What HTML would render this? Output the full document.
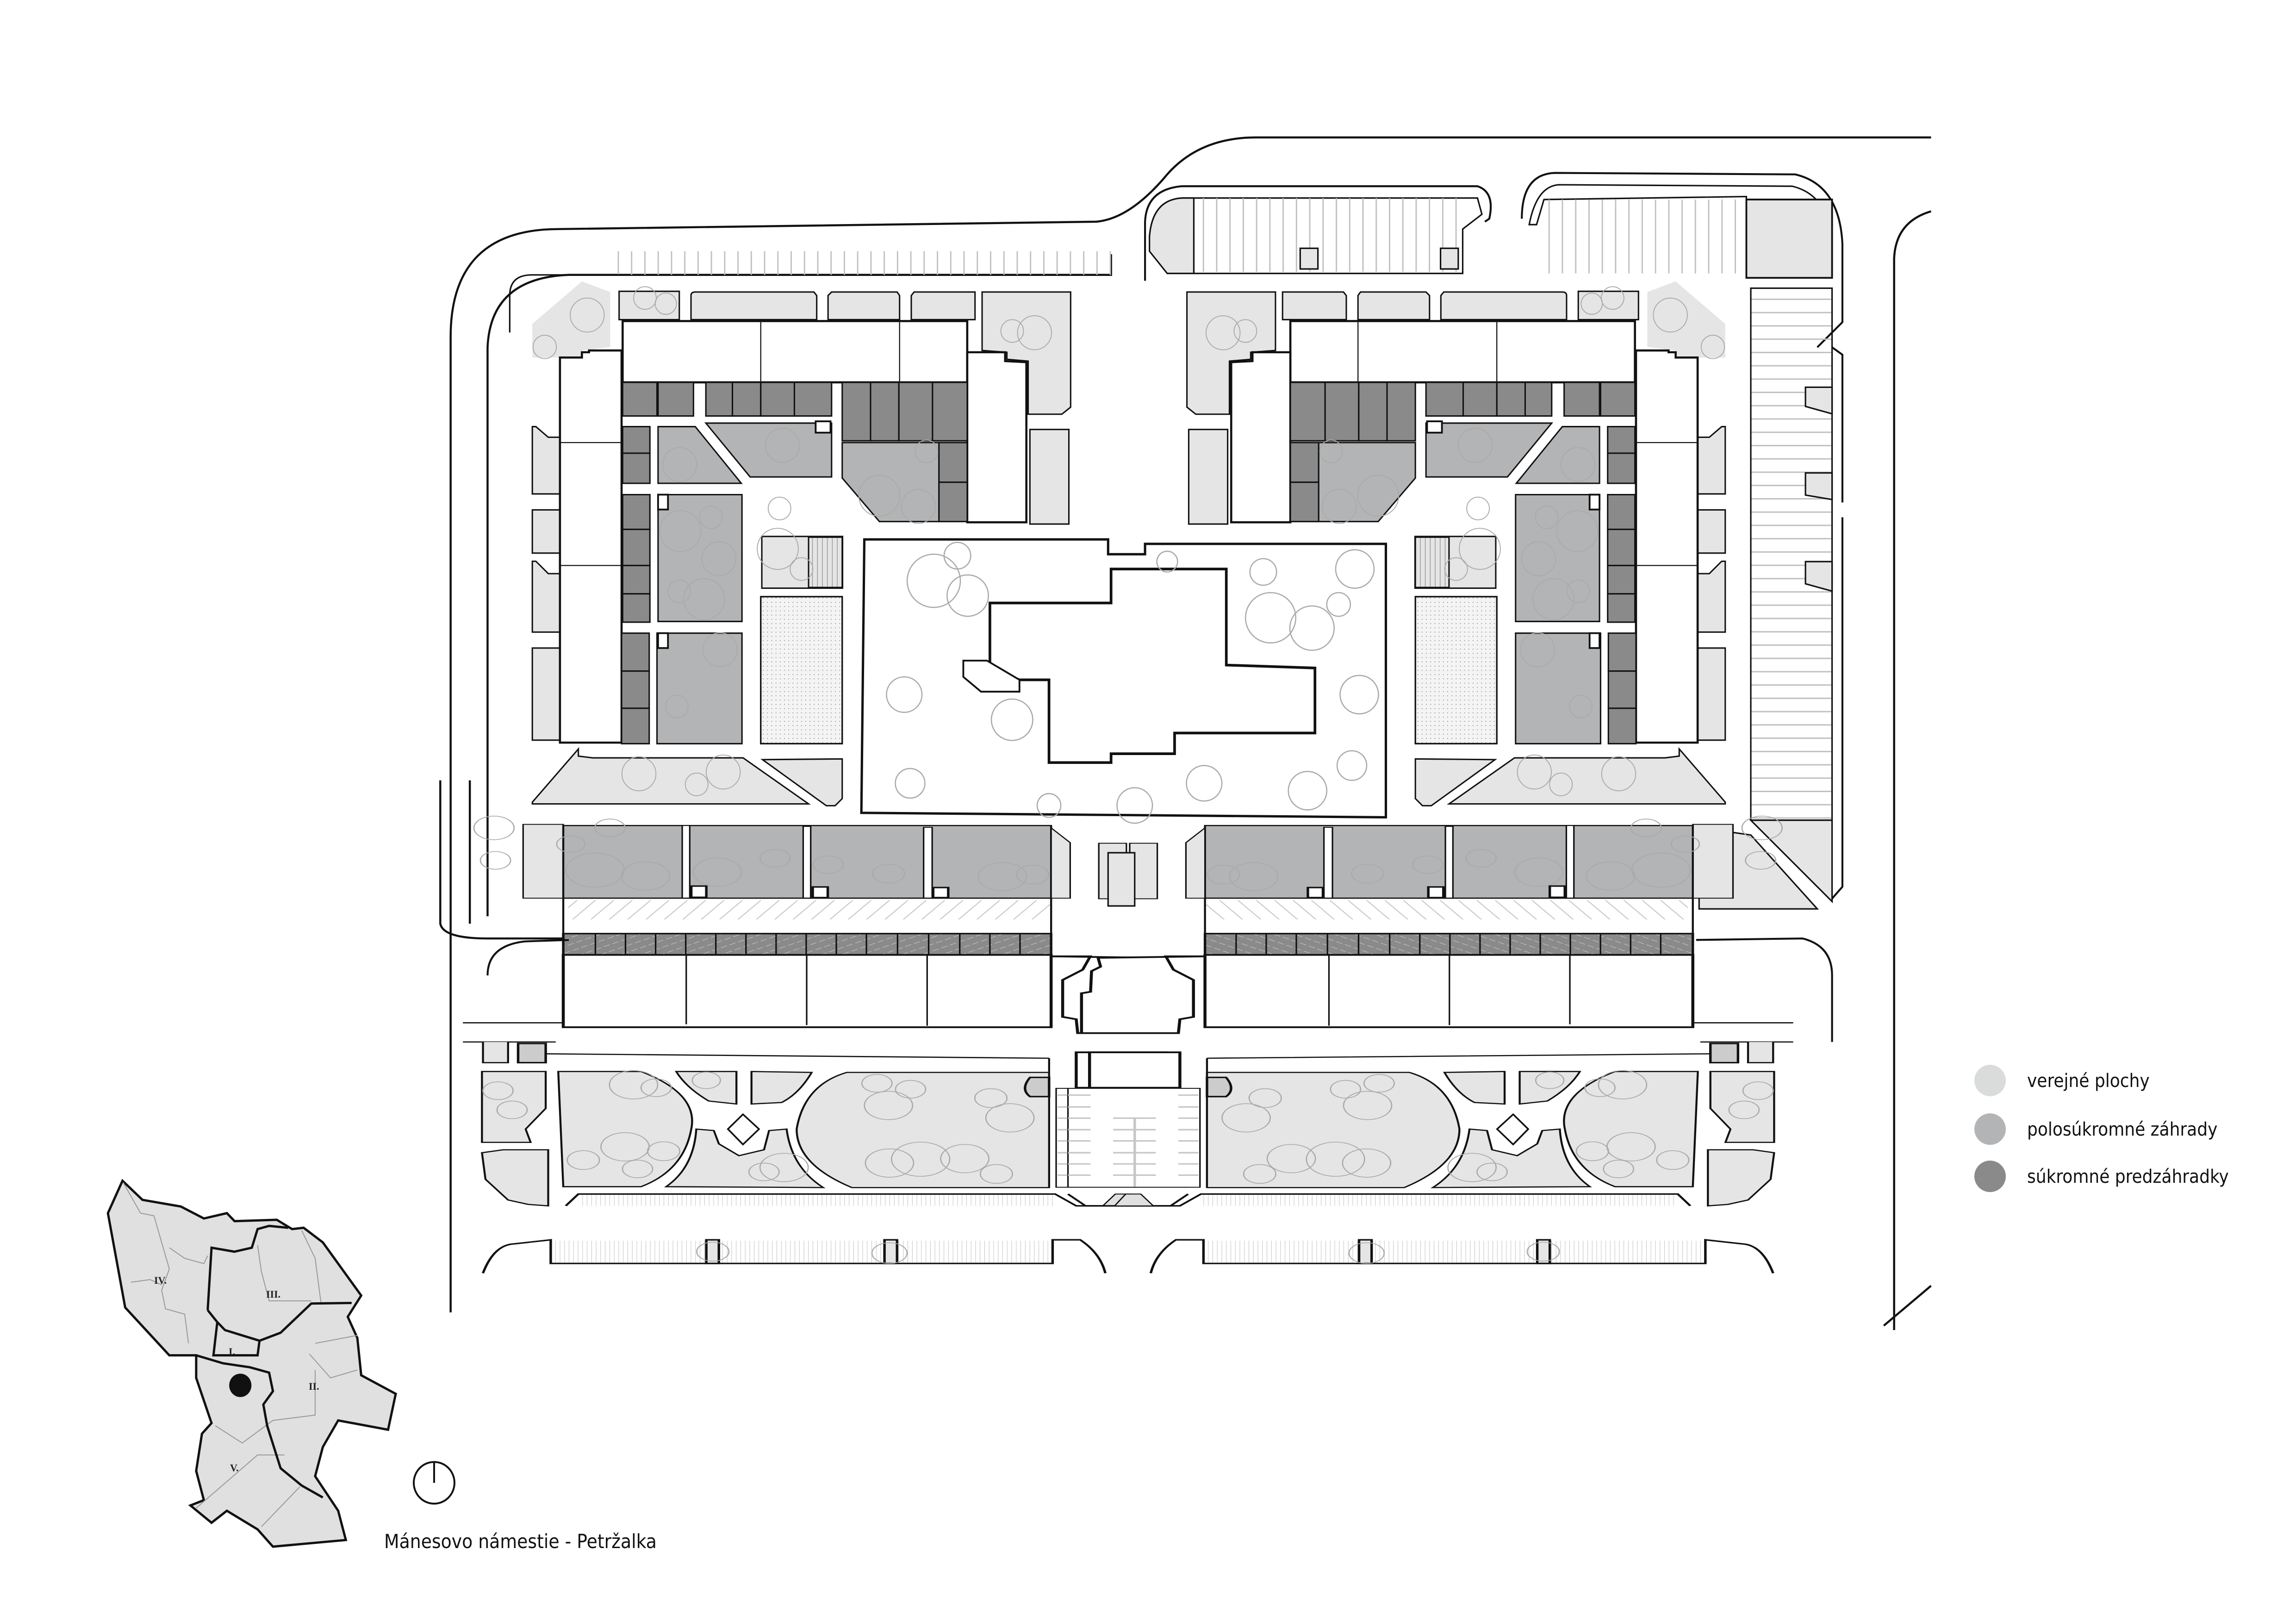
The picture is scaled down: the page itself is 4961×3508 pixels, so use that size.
<!DOCTYPE html>
<html><head><meta charset="utf-8"><style>
html,body{margin:0;padding:0;background:#fff;overflow:hidden}
svg{display:block}
.t{font-family:"DejaVu Sans Condensed","DejaVu Sans","Liberation Sans",sans-serif}
</style></head><body>
<svg width="4961" height="3508" viewBox="0 0 4961 3508" xmlns="http://www.w3.org/2000/svg">
<defs>
<pattern id="hat" width="30" height="30" patternUnits="userSpaceOnUse" patternTransform="rotate(35)">
<line x1="0" y1="0" x2="0" y2="30" stroke="#c8c8c8" stroke-width="5"/></pattern>
<pattern id="dot" width="12" height="12" patternUnits="userSpaceOnUse"><circle cx="4" cy="4" r="1.3" fill="#888"/></pattern>
<pattern id="str" width="14" height="10" patternUnits="userSpaceOnUse"><line x1="7" y1="0" x2="7" y2="10" stroke="#999" stroke-width="2"/></pattern>
<pattern id="dh" width="20" height="20" patternUnits="userSpaceOnUse" patternTransform="rotate(60)"><rect width="20" height="20" fill="#8a8a8a"/><line x1="0" y1="0" x2="0" y2="20" stroke="#c8c8c8" stroke-width="3" stroke-dasharray="8 6"/></pattern>
<pattern id="pk" width="9" height="10" patternUnits="userSpaceOnUse"><line x1="4.5" y1="0" x2="4.5" y2="10" stroke="#c0c0c0" stroke-width="0.9"/></pattern>
<pattern id="pkh" width="10" height="9" patternUnits="userSpaceOnUse"><line x1="0" y1="4.5" x2="10" y2="4.5" stroke="#c0c0c0" stroke-width="0.9"/></pattern>

<g id="blk" stroke="#111" stroke-width="5" stroke-linejoin="miter">
 <g fill="#e5e5e5" stroke-width="4">
  <path d="M0,130 L140,10 L220,40 L220,195 L140,205 L140,225 L80,225 L0,225Z" stroke="none"/>
  <rect x="245" y="38" width="170" height="80"/>
  <path d="M448,50 Q448,40 460,40 L795,40 L803,50 L803,118 L448,118Z"/>
  <path d="M835,50 L845,40 L1030,40 L1037,50 L1037,118 L835,118Z"/>
  <path d="M1070,50 L1078,40 L1250,40 L1250,118 L1070,118Z"/>
  <path d="M1270,40 L1520,40 L1520,365 L1495,385 L1400,385 L1400,235 L1340,230 L1340,210 L1270,205Z"/>
  <rect x="1405" y="428" width="110" height="267"/>
  <path d="M0,420 L10,420 L45,450 L78,450 L78,610 L0,610Z"/>
  <rect x="0" y="655" width="78" height="122"/>
  <path d="M0,800 L10,800 L45,835 L78,835 L78,1000 L0,1000Z"/>
  <rect x="0" y="1045" width="78" height="260"/>
  <path d="M0,1480 L130,1330 L130,1350 L170,1355 L595,1355 L780,1485 L0,1485Z" />
  <path d="M650,1360 L875,1358 L875,1470 L855,1490 L830,1490Z"/>
  <rect x="648" y="730" width="228" height="146"/>
  <rect x="780" y="732" width="95" height="142" fill="url(#str)" stroke="#111"/>
  <rect x="645" y="900" width="230" height="415" fill="#f4f4f4"/>
  <rect x="645" y="900" width="230" height="415" fill="url(#dot)"/>
 </g>
 <g fill="#fff" stroke-width="6">
  <rect x="255" y="122" width="973" height="173"/>
  <path d="M78,225 L140,225 L140,210 L160,210 L160,205 L252,205 L252,1312 L78,1312Z"/>
  <path d="M1228,210 L1335,210 L1335,235 L1395,238 L1395,690 L1228,690Z"/>
 </g>
 <g stroke-width="3"><line x1="645" y1="125" x2="645" y2="292"/><line x1="1037" y1="125" x2="1037" y2="292"/><line x1="80" y1="465" x2="250" y2="465"/><line x1="80" y1="812" x2="250" y2="812"/></g>
 <g fill="#8a8a8a" stroke-width="4">
  <rect x="255" y="295" width="97" height="95"/><rect x="355" y="295" width="100" height="95"/>
  <rect x="490" y="295" width="75" height="95"/><rect x="565" y="295" width="80" height="95"/><rect x="645" y="295" width="95" height="95"/><rect x="740" y="295" width="105" height="95"/>
  <rect x="875" y="295" width="80" height="165"/><rect x="955" y="295" width="80" height="165"/><rect x="1035" y="295" width="95" height="165"/><rect x="1130" y="295" width="98" height="165"/>
  <rect x="255" y="420" width="77" height="75"/><rect x="255" y="495" width="77" height="85"/>
  <rect x="255" y="612" width="77" height="98"/><rect x="255" y="710" width="77" height="102"/><rect x="255" y="812" width="77" height="80"/><rect x="255" y="892" width="77" height="80"/>
  <rect x="252" y="1003" width="78" height="107"/><rect x="252" y="1110" width="78" height="105"/><rect x="252" y="1215" width="78" height="100"/>
  <rect x="1148" y="465" width="80" height="112"/><rect x="1148" y="577" width="80" height="111"/>
 </g>
 <g fill="#b3b4b5" stroke-width="4">
  <path d="M355,420 L460,420 L590,580 L355,580Z"/>
  <path d="M490,410 L845,410 L845,562 L615,562Z"/>
  <path d="M355,612 L592,612 L592,970 L355,970Z"/>
  <path d="M352,1003 L592,1003 L592,1315 L352,1315Z"/>
  <path d="M875,465 L1148,465 L1148,688 L980,688 L875,565Z"/>
 </g>
 <g fill="#fff" stroke-width="5"><rect x="800" y="405" width="42" height="32"/><rect x="355" y="612" width="28" height="42"/><rect x="355" y="1003" width="28" height="42"/></g>
 <g fill="none" stroke="#aaa" stroke-width="2.5">
  <circle cx="155" cy="105" r="48"/><circle cx="35" cy="195" r="33"/><circle cx="318" cy="57" r="32"/><circle cx="377" cy="73" r="30"/>
  <circle cx="416" cy="527" r="48"/><circle cx="706" cy="473" r="48"/><circle cx="418" cy="715" r="58"/><circle cx="527" cy="793" r="48"/><circle cx="504" cy="676" r="32"/><circle cx="485" cy="907" r="58"/><circle cx="415" cy="885" r="32"/><circle cx="530" cy="1050" r="48"/><circle cx="408" cy="1210" r="32"/>
  <circle cx="980" cy="615" r="58"/><circle cx="1090" cy="645" r="48"/><circle cx="1113" cy="490" r="32"/><circle cx="1355" cy="150" r="32"/><circle cx="1418" cy="155" r="48"/>
  <circle cx="693" cy="765" r="58"/><circle cx="760" cy="822" r="32"/><circle cx="698" cy="651" r="32"/>
  <circle cx="301" cy="1400" r="48"/><circle cx="539" cy="1395" r="48"/><circle cx="464" cy="1430" r="32"/>
 </g>
</g>

<g id="row" stroke="#111" stroke-width="4" vector-effect="non-scaling-stroke">
 <rect x="120" y="48" width="80" height="250" fill="#e5e5e5" stroke-width="3"/>
 <rect x="200" y="52" width="972" height="246" fill="#b3b4b5"/>
 <g fill="#fff" stroke-width="3"><rect x="437" y="52" width="15" height="246"/><rect x="678" y="55" width="15" height="243"/><rect x="918" y="58" width="17" height="240"/></g>
 <g fill="#fff" stroke-width="5"><rect x="455" y="257" width="30" height="38"/><rect x="697" y="260" width="30" height="36"/><rect x="937" y="262" width="30" height="34"/></g>
 <path d="M1172,60 L1210,110 L1210,298 L1172,298Z" fill="#e5e5e5" stroke-width="3"/>
 <rect x="1267" y="112" width="55" height="188" fill="#e5e5e5" stroke-width="3"/>
 <rect x="200" y="298" width="972" height="120" fill="#fff"/>
 <rect x="210" y="305" width="960" height="65" fill="url(#hat)" stroke="none"/>
 <rect x="200" y="418" width="972" height="72" fill="url(#dh)" stroke-width="5"/>
 <g stroke-width="3"><path d="M264,418V490M324,418V490M384,418V490M444,418V490M504,418V490M564,418V490M624,418V490M684,418V490M744,418V490M804,418V490M866,418V490M928,418V490M990,418V490M1050,418V490M1110,418V490"/></g>
 <rect x="200" y="490" width="972" height="245" fill="#fff" stroke-width="6"/>
 <path d="M445,490V725M685,490V728M925,490V730" stroke-width="3"/>
 <path d="M1172,495 L1250,495 L1235,540 L1195,575 L1195,700 L1222,708 L1225,755 L1418,755 L1418,620 L1400,615 L1398,545 L1380,530 L1385,500 Z" fill="#fff" stroke-width="6"/>
 <rect x="1222" y="820" width="180" height="120" fill="#fff" stroke-width="6"/>
 <path d="M0,720 L200,720M0,785 L185,785M165,825 L1168,840M1168,840 L1168,1278" fill="none"/>
 <path d="M40,785 L40,855 L90,855 L90,785" fill="#e5e5e5" stroke-width="4"/>
 <path d="M38,885 L165,885 L165,1010 L125,1080 L135,1125 L38,1125Z" fill="#e5e5e5" stroke-width="4"/>
 <path d="M38,1160 L80,1150 L170,1150 L170,1340 L130,1335 L90,1320 L45,1250Z" fill="#e5e5e5" stroke-width="4"/>
 <path d="M190,885 L355,885 Q470,960 455,1080 Q440,1220 355,1275 L200,1275 Z" fill="#e5e5e5"/>
 <path d="M405,1275 Q460,1210 465,1080 L500,1085 L510,1130 L550,1170 L600,1150 L610,1085 L645,1080 Q655,1210 718,1278Z" fill="#e5e5e5"/>
 <path d="M425,885 L545,885 L545,995 L490,985 Q445,940 425,885Z" fill="#e5e5e5"/>
 <path d="M575,885 L695,888 Q670,960 635,990 L575,995Z" fill="#e5e5e5"/>
 <path d="M558,1030 L590,1080 L558,1132 L528,1080Z" fill="#fff"/>
 <path d="M765,888 L1168,888 L1168,1278 L775,1278 Q665,1200 665,1080 Q680,930 765,888 Z" fill="#e5e5e5"/>
 <rect x="1182" y="942" width="263" height="335" fill="#fff" stroke-width="3"/>
 <g stroke="#c6c6c6" stroke-width="5"><path d="M1185,965H1225M1185,1005H1225M1185,1043H1225M1185,1082H1225M1185,1120H1225M1185,1160H1225M1185,1198H1225M1185,1236H1225M1400,965H1445M1400,1005H1445M1400,1043H1445M1400,1082H1445M1400,1120H1445M1400,1160H1445M1400,1198H1445M1400,1236H1445M1270,1043H1355M1270,1082H1355M1270,1120H1355M1270,1160H1355M1270,1198H1355M1270,1236H1355M1312,1043V1275"/></g>
 <path d="M1130,905 L1168,905 L1168,970 L1130,970 Q1110,945 1130,905Z" fill="#ccc" stroke-width="5"/>
 <path d="M110,790 L165,790 L165,855 L110,855Z" fill="#ccc" stroke-width="5"/>
 <path d="M205,1340 L230,1300 L1180,1300 L1222,1340 L1410,1340 L1445,1300" fill="none" stroke-width="5"/>
 <rect x="232" y="1303" width="945" height="37" fill="url(#pk)" stroke="none"/>
 <path d="M1275,1340 L1300,1300 L1330,1300 L1352,1340Z" fill="#e0e0e0" stroke-width="3"/>
 <path d="M40,1568 Q60,1480 95,1470 L175,1455 L175,1535 L1175,1535 L1175,1455 L1230,1455 Q1270,1500 1280,1568" fill="none" stroke-width="5"/>
 <rect x="180" y="1458" width="990" height="74" fill="url(#pk)" stroke="none"/>
 <g fill="#e5e5e5" stroke-width="5"><rect x="485" y="1455" width="25" height="80"/><rect x="840" y="1455" width="25" height="80"/></g>
 <g fill="none" stroke="#aaa" stroke-width="2.5">
  <circle cx="340" cy="930" r="48"/><circle cx="385" cy="940" r="30"/><circle cx="485" cy="915" r="28"/><circle cx="323" cy="1140" r="48"/><circle cx="400" cy="1155" r="32"/><circle cx="240" cy="1185" r="32"/><circle cx="348" cy="1215" r="30"/>
  <circle cx="640" cy="1210" r="48"/><circle cx="600" cy="1225" r="30"/><circle cx="70" cy="950" r="30"/><circle cx="98" cy="1015" r="30"/>
  <circle cx="848" cy="1000" r="48"/><circle cx="825" cy="925" r="30"/><circle cx="892" cy="945" r="30"/><circle cx="1052" cy="975" r="32"/><circle cx="1090" cy="1042" r="48"/>
  <circle cx="850" cy="1195" r="48"/><circle cx="912" cy="1182" r="58"/><circle cx="1000" cy="1180" r="48"/><circle cx="1063" cy="1232" r="32"/>
  <circle cx="263" cy="203" r="58"/><circle cx="364" cy="223" r="48"/><circle cx="293" cy="60" r="30"/><circle cx="215" cy="115" r="28"/><circle cx="507" cy="210" r="48"/><circle cx="622" cy="163" r="30"/><circle cx="728" cy="185" r="30"/><circle cx="848" cy="215" r="32"/><circle cx="1075" cy="225" r="48"/><circle cx="1135" cy="218" r="32"/>
  <circle cx="62" cy="60" r="40"/><circle cx="65" cy="170" r="30"/><circle cx="498" cy="1495" r="32"/><circle cx="850" cy="1500" r="35"/>
 </g>
</g>
</defs>

<g transform="scale(3.1924)" fill="none" stroke="#111">
 <g stroke-width="1.4" fill="none">
  <path d="M305,888 L305,228 Q305,155 378,155 L742,150 Q765,148 790,118 Q812,93 850,93 L1307,93"/>
  <path d="M1282,900 L1282,175 Q1283,150 1307,143"/>
  <path d="M1275,897 L1307,870"/>
  <path d="M330,620 L330,235 Q332,188 385,186 L752,186 L752,172"/>
  <path d="M298,528 L298,625 Q300,635 330,635 L385,635"/>
  <path d="M318,528 L318,625"/>
 </g>
 <rect x="410" y="170" width="342" height="16" fill="url(#pk)" stroke="none"/>
 <path d="M345,225 L345,200 Q345,186 360,186 L420,186" stroke-width="1"/>
 <g stroke-width="1.3">
  <path d="M775,190 L775,150 Q776,128 800,126 L1000,126 Q1012,130 1008,148 L1005,150"/>
  <path d="M1030,148 Q1030,118 1052,117 L1215,118 Q1245,125 1247,165 L1247,218 L1230,235"/>
  <path d="M1240,235 L1247,240 L1247,340"/>
  <path d="M1247,350 L1247,600 L1240,608"/>
 </g>
 <path d="M778,160 Q780,135 800,134 L1000,134 L1003,145 L990,155 L990,185 L808,185 L808,160 Z" fill="#fff" stroke-width="1"/>
 <path d="M778,160 Q780,135 800,134 L808,134 L808,185 L790,185 L778,170Z" fill="#e5e5e5" stroke-width="1"/>
 <rect x="808" y="134" width="182" height="50" fill="url(#pk)" stroke="none"/>
 <path d="M1035,152 Q1040,126 1055,125 L1213,126 Q1238,132 1240,165 L1240,188 L1182,188 L1182,133 L1045,135 L1040,152Z" fill="#fff" stroke-width="1"/>
 <rect x="1045" y="135" width="135" height="50" fill="url(#pk)" stroke="none"/>
 <rect x="1182" y="135" width="58" height="53" fill="#e5e5e5" stroke-width="1.2"/>
 <g fill="#e5e5e5" stroke-width="1"><rect x="880" y="168" width="12" height="14"/><rect x="975" y="168" width="12" height="14"/></g>
 <rect x="1185" y="195" width="55" height="360" fill="url(#pkh)" stroke="#111" stroke-width="1"/>
 <path d="M1222,262 L1240,262 L1240,280 L1222,275Z M1222,320 L1240,320 L1240,338 L1222,335Z M1222,380 L1240,380 L1240,400 L1222,395Z" fill="#e5e5e5" stroke-width="1"/>
 <path d="M1185,555 L1240,555 L1240,610 Z" fill="#e5e5e5" stroke-width="1"/>
 <path d="M1150,560 L1185,565 L1230,615 L1150,615 Z" fill="#e5e5e5" stroke-width="1"/>
 <use href="#blk" transform="translate(360.3,188) scale(0.2397)"/>
 <use href="#blk" transform="translate(1528,0) scale(-1,1) translate(360.3,188) scale(0.2397)"/>
 <path d="M585,365 L750,365 L750,375 L775,375 L775,368 L938,368 L938,553 L583,550 Z" fill="#fff" stroke-width="1.6"/>
 <path d="M670,408 L752,408 L752,385 L830,385 L830,450 L890,452 L890,496 L795,496 L795,510 L752,510 L752,516 L710,516 L710,460 L690,460 L670,452 Z" fill="#fff" stroke-width="1.8"/>
 <path d="M652,447 L668,447 L690,460 L690,468 L664,468 L652,458 Z" fill="#fff" stroke-width="1.2"/>
 <g fill="none" stroke="#aaa" stroke-width="0.8">
  <circle cx="632" cy="393" r="18"/><circle cx="655" cy="403" r="14"/><circle cx="648" cy="376" r="9"/><circle cx="612" cy="470" r="12"/><circle cx="685" cy="487" r="14"/><circle cx="616" cy="530" r="10"/><circle cx="710" cy="545" r="8"/><circle cx="768" cy="545" r="12"/><circle cx="815" cy="530" r="12"/><circle cx="860" cy="418" r="17"/><circle cx="888" cy="425" r="15"/><circle cx="917" cy="385" r="13"/><circle cx="906" cy="409" r="8"/><circle cx="855" cy="387" r="9"/><circle cx="885" cy="535" r="13"/><circle cx="915" cy="518" r="10"/><circle cx="920" cy="470" r="13"/><circle cx="790" cy="380" r="7"/>
 </g>
 <g stroke-width="1.3">
 <use href="#row" transform="translate(313.3,548.2) scale(0.3397,0.1998)"/>
 <use href="#row" transform="translate(1527,0) scale(-1,1) translate(313.3,548.2) scale(0.3397,0.1998)"/>
 </g>
 <path d="M330,660 Q330,640 355,637 L385,636 M1148,636 L1220,635 Q1240,640 1240,660 L1240,705" stroke-width="1.3"/>
 <rect x="750" y="577" width="18" height="36" fill="#e5e5e5" stroke-width="1"/>
</g>

<g class="t" font-size="40" fill="#111">
 <circle cx="4300" cy="2334" r="34" fill="#dadcdc"/>
 <circle cx="4300" cy="2439" r="34" fill="#b3b4b5"/>
 <circle cx="4300" cy="2541" r="34" fill="#8a8a8a"/>
 <text x="4380" y="2348">verejné plochy</text>
 <text x="4380" y="2453">polosúkromné záhrady</text>
 <text x="4380" y="2555">súkromné predzáhradky</text>
</g>

<g transform="translate(200,2500) scale(0.8292,0.574)">
 <path d="M78,88 L130,160 L230,185 L290,230 L350,210 L370,240 L480,235 L520,270 L550,265 L600,320 L700,520 L665,600 L690,680 L700,820 L790,890 L770,1025 L640,990 L600,1090 L580,1200 L640,1330 L660,1440 L470,1465 L430,1400 L350,1330 L310,1375 L255,1310 L290,1290 L270,1180 L285,1040 L310,1000 L270,830 L270,745 L200,745 L85,565 L40,210 Z" fill="#e0e0e0" stroke="#111" stroke-width="5" vector-effect="non-scaling-stroke"/>
 <g fill="none" stroke="#999" stroke-width="2" vector-effect="non-scaling-stroke">
  <path d="M80,95 L125,210 L160,220 L180,320 L200,420 L180,500 L190,570 L240,590 L250,700" vector-effect="non-scaling-stroke"/>
  <path d="M100,470 L150,460 L180,480 M200,340 L240,380 L290,400 L300,370" vector-effect="non-scaling-stroke"/>
  <path d="M430,330 L440,430 L460,540 L570,540 M545,275 L580,380 L595,545" vector-effect="non-scaling-stroke"/>
  <path d="M580,700 L690,670 M565,740 L620,830 L690,800 M580,800 L580,970 L470,990 L390,1075 L320,1010" vector-effect="non-scaling-stroke"/>
  <path d="M270,1320 L430,1120 L500,1120 M540,1240 L440,1390" vector-effect="non-scaling-stroke"/>
 </g>
 <g fill="none" stroke="#111" stroke-width="5">
  <path d="M300,575 L310,340 L370,355 L415,340 L430,270 L460,258 L510,265" vector-effect="non-scaling-stroke"/>
  <path d="M300,575 L325,620 L345,650 L435,690 L490,660 L570,550 L675,548" vector-effect="non-scaling-stroke"/>
  <path d="M325,620 L315,745 L430,745 L435,690" vector-effect="non-scaling-stroke"/>
  <path d="M270,745 L340,775 L410,790 L460,810 L470,880 L445,930 L455,1010 L490,1170 L545,1235 L600,1280" vector-effect="non-scaling-stroke"/>
 </g>
 <ellipse cx="385" cy="858" rx="29" ry="44" fill="#111"/>
</g>
<g font-family="Liberation Serif,serif" font-weight="bold" font-size="22" fill="#222">
 <text x="333" y="2773">IV.</text><text x="575" y="2803">III.</text><text x="494" y="2927">I.</text><text x="667" y="3002">II.</text><text x="497" y="3178">V.</text>
</g>
<ellipse cx="938" cy="3203" rx="44" ry="45" fill="none" stroke="#111" stroke-width="4"/>
<line x1="938" y1="3158" x2="938" y2="3203" stroke="#111" stroke-width="4"/>
<text class="t" x="830" y="3344" font-size="42" fill="#111">Mánesovo námestie - Petržalka</text>
</svg>
</body></html>
